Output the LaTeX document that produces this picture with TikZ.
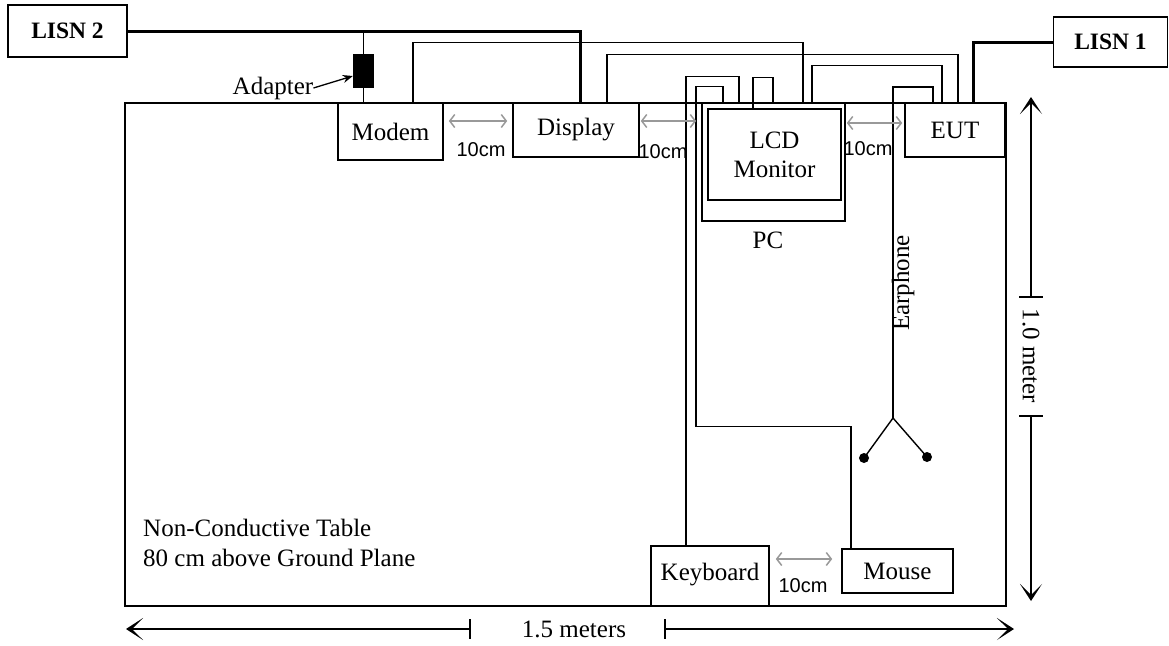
\documentclass[tikz,border=0pt]{standalone}
\usepackage{fontspec}
\setmainfont{Liberation Serif}
\newfontfamily\arialfont{Liberation Sans}
\usetikzlibrary{arrows.meta}
\begin{document}
\begin{tikzpicture}[x=1pt,y=-1pt,
  box/.style={draw, line width=1.6pt, inner sep=0pt, align=center,
    font=\fontsize{25}{29}\selectfont},
  lisn/.style={draw, line width=1.6pt, inner sep=0pt,
    font=\bfseries\fontsize{23.5}{25}\selectfont},
  cable/.style={line width=1.4pt},
  power/.style={line width=3pt},
  gap/.style={draw=black!40, line width=1.5pt,
    {Straight Barb[length=5pt,width=13pt]}-{Straight Barb[length=5pt,width=13pt]}},
  gaplbl/.style={font=\arialfont\fontsize{20}{22}\selectfont, inner sep=0pt},
  lbl/.style={font=\fontsize{25}{28}\selectfont, inner sep=0pt},
  dim/.style={line width=1.5pt},
  dimtip/.style={-{Stealth[length=17pt,width=22pt,inset=11pt]}},
  dot/.style={circle, fill, inner sep=0pt, minimum size=10pt},
]
\useasboundingbox (0,0) rectangle (1169,645);

% table
\node[draw, line width=2.8pt, inner sep=0pt, minimum width=881pt, minimum height=503pt] (table) at (565.5,354.5) {};

% LISNs
\node[lisn, minimum width=119pt, minimum height=52pt] (lisn2) at (67.5,31) {LISN 2};
\node[lisn, minimum width=114pt, minimum height=50pt] (lisn1) at (1110.5,42) {LISN 1};

% equipment boxes
\node[box, minimum width=105pt, minimum height=57pt] (modem) at (390.5,131.5) {Modem};
\node[box, minimum width=126pt, minimum height=54pt] (display) at (576,130) {Display};
\node[box, minimum width=143pt, minimum height=118pt] (pc) at (773.5,162) {};
\node[box, minimum width=133pt, minimum height=91pt] (lcd) at (774.5,154.5) {LCD\\Monitor};
\node[box, minimum width=100pt, minimum height=54pt] (eut) at (955,130) {EUT};
\node[box, minimum width=118pt, minimum height=60pt, text depth=8pt] (keyboard) at (710,576) {Keyboard};
\node[box, minimum width=111pt, minimum height=44pt] (mouse) at (897.5,571) {Mouse};
\node[lbl] (pclbl) at (768,240) {PC};

% adapter
\node[fill, inner sep=0pt, minimum width=21pt, minimum height=34pt] (adapter) at (363.5,71) {};
\node[lbl] (adlbl) at (273,88) {Adapter};
\draw[line width=1.3pt, -{Stealth[length=10pt,width=8pt]}] (adlbl.east) -- ([yshift=-5pt]adapter.west);

% power cables
\draw[power] (lisn2.east) -| ([xshift=4pt]display.north);
\draw[power] (lisn1.west) -| ([xshift=18pt]eut.north);
\draw[cable] (adapter.north) -- (adapter.north |- lisn2.east);
\draw[cable] (adapter.south) -- (adapter.south |- modem.north);

% signal cables
\draw[cable] ([xshift=22.5pt]modem.north) -- ++(0,-60) -| ([xshift=29.5pt]pc.north);
\draw[cable] ([xshift=31pt]display.north) -- ++(0,-48) -| ([xshift=3pt]eut.north);
\draw[cable] ([xshift=38.5pt]pc.north) -- ++(0,-37) -| ([xshift=-13pt]eut.north);
\draw[cable] ([xshift=-24pt]keyboard.north) -- ++(0,-469) -| ([xshift=-34.5pt]pc.north);
\draw[cable] ([xshift=-46.5pt]mouse.north) -- ++(0,-122) -- ++(-155,0) -- ++(0,-340) -| ([xshift=-50.5pt]pc.north);
\draw[cable] ([xshift=-21.5pt]lcd.north) -- ++(0,-31) -| ([xshift=-0.5pt]pc.north);

% earphone
\coordinate (ej) at (893,418);
\node[dot] (el) at (864,458) {};
\node[dot] (er) at (927,457) {};
\draw[cable] (ej) -- ++(0,-331) -| ([xshift=-22pt]eut.north);
\draw[cable] (el.center) -- (ej) -- (er.center);
\node[lbl, rotate=90] (ephlbl) at (903,283) {Earphone};

% 10 cm spacings
\draw[gap] ([shift={(5pt,10.5pt)}]modem.east) -- ([shift={(-5pt,9pt)}]display.west);
\draw[gap] ([shift={(1pt,9pt)}]display.east) -- ([shift={(-5pt,41pt)}]pc.west);
\draw[gap] ([shift={(1pt,39pt)}]pc.east) -- ([shift={(-2pt,7pt)}]eut.west);
\draw[gap] ([shift={(6pt,17pt)}]keyboard.east) -- ([shift={(-9pt,12pt)}]mouse.west);
\node[gaplbl] (g1) at (481,150) {10cm};
\node[gaplbl] (g2) at (663,152) {10cm};
\node[gaplbl] (g3) at (868,149) {10cm};
\node[gaplbl] (g4) at (803,586) {10cm};

% table text
\node[lbl, anchor=base west] (t1) at (143,536) {Non-Conductive Table};
\node[lbl, anchor=base west] (t2) at (143,566) {80 cm above Ground Plane};

% width dimension
\node[lbl] (wlbl) at (574,629) {1.5 meters};
\coordinate (wl) at (470,629);
\coordinate (wr) at (665,629);
\coordinate (wla) at (126,629);
\coordinate (wra) at (1014,629);
\draw[dim, dimtip] (wl) -- (wla);
\draw[dim, dimtip] (wr) -- (wra);
\draw[dim] ([yshift=10pt]wl) -- ([yshift=-10pt]wl);
\draw[dim] ([yshift=10pt]wr) -- ([yshift=-10pt]wr);

% depth dimension
\node[lbl, rotate=-90] (hlbl) at (1031,356) {1.0 meter};
\coordinate (ht) at (1031,297);
\coordinate (hb) at (1031,416);
\coordinate (hta) at (1031,97);
\coordinate (hba) at (1031,601);
\draw[dim, dimtip] (ht) -- (hta);
\draw[dim, dimtip] (hb) -- (hba);
\draw[dim] ([xshift=-12pt]ht) -- ([xshift=12pt]ht);
\draw[dim] ([xshift=-12pt]hb) -- ([xshift=12pt]hb);
\end{tikzpicture}
\end{document}
